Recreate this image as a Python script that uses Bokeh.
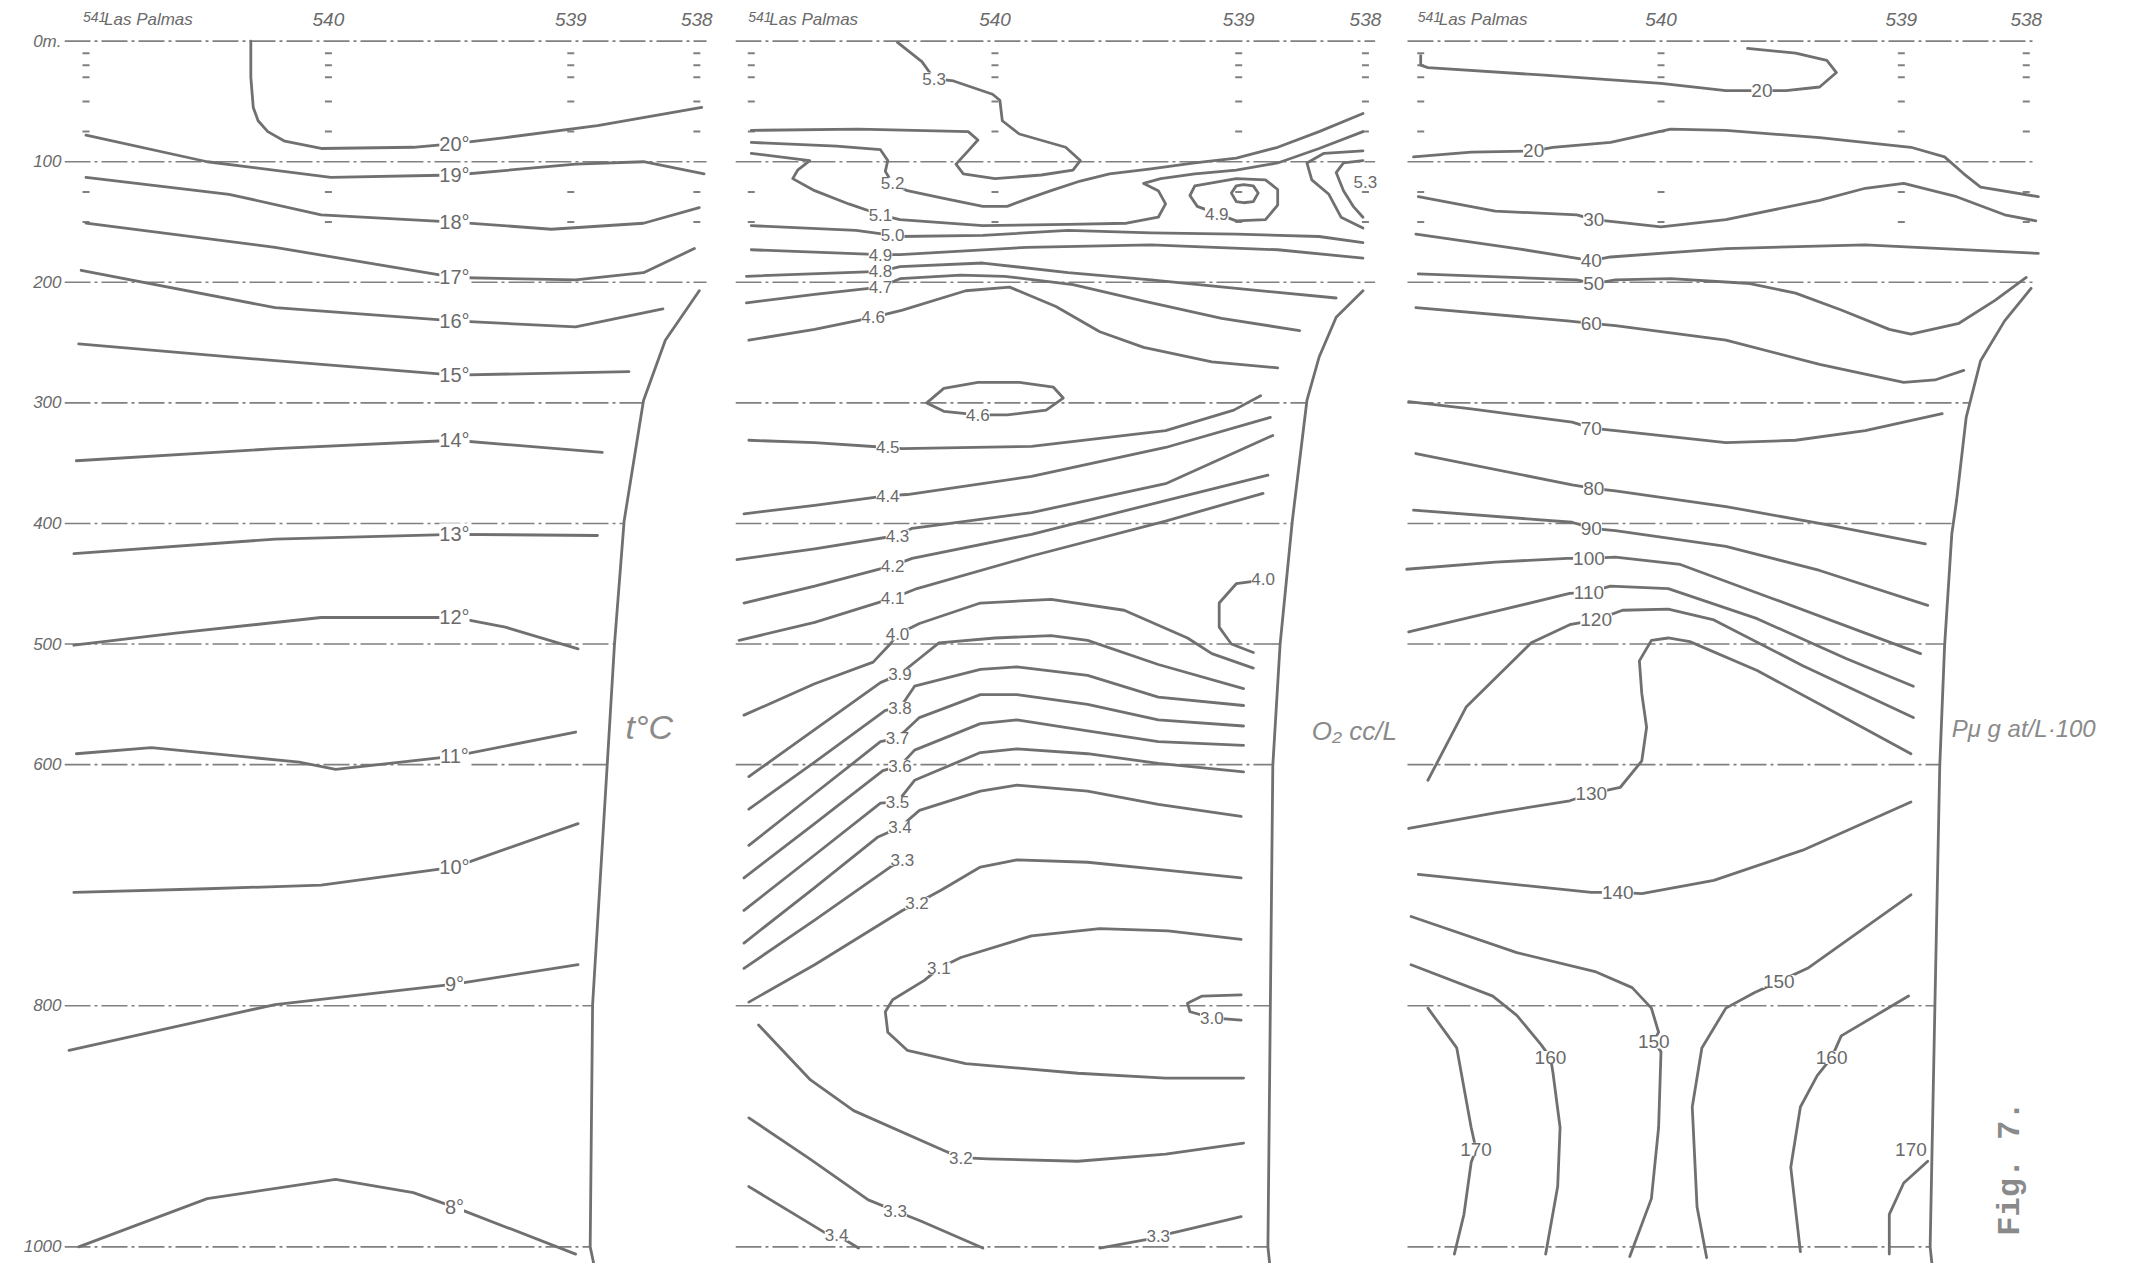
import numpy as np
from bokeh.plotting import figure
from bokeh.models import Range1d, FixedTicker, ColumnDataSource, LabelSet, Label
from bokeh.layouts import row
from bokeh.core.properties import value
from bokeh.embed import file_html
from bokeh.resources import INLINE

# ------------------------------------------------------------------ data
# x: distance along the section in station units (541 = 0, 540 = 1, 539 = 2, 538 = 2.52)
# y: depth in metres
STATION_NAMES = ["541", "540", "539", "538"]
STATION_U = [0.0, 1.0, 2.0, 2.52]
HARBOUR = "Las Palmas"
SAMPLE_DEPTHS = [10, 20, 30, 50, 75, 125, 150]
DEPTH_TICKS = [0, 100, 200, 300, 400, 500, 600, 800, 1000]

# --- temperature (t °C)
TEMP_TEXT = ["20°", "19°", "18°", "17°", "16°", "15°", "14°", "13°", "12°", "11°", "10°", "9°", "8°"]
TEMP_U = [
    [0.68, 0.68, 0.69, 0.71, 0.75, 0.82, 0.97, 1.35, 1.52, 1.73, 2.11, 2.54],
    [0.0, 0.5, 1.01, 1.52, 2.02, 2.3, 2.55],
    [0.0, 0.59, 0.97, 1.52, 1.92, 2.3, 2.53],
    [0.0, 0.78, 1.52, 2.02, 2.3, 2.51],
    [-0.02, 0.78, 1.52, 2.02, 2.38],
    [-0.03, 0.78, 1.52, 2.24],
    [-0.04, 0.78, 1.52, 2.13],
    [-0.05, 0.78, 1.52, 2.11],
    [-0.05, 0.37, 0.97, 1.52, 1.73, 2.03],
    [-0.04, 0.27, 0.88, 1.03, 1.52, 2.02],
    [-0.05, 0.5, 0.97, 1.52, 2.03],
    [-0.07, 0.78, 1.52, 2.03],
    [-0.03, 0.5, 1.03, 1.35, 1.52, 2.02],
]
TEMP_D = [
    [0, 30, 55, 66, 75, 83, 89, 88, 85, 80, 70, 55],
    [78, 100, 113, 111, 102, 100, 110],
    [113, 127, 144, 150, 156, 151, 138],
    [151, 171, 196, 198, 192, 172],
    [190, 221, 232, 237, 222],
    [251, 265, 277, 274],
    [348, 338, 331, 341],
    [425, 413, 409, 410],
    [501, 491, 478, 478, 486, 504],
    [591, 586, 598, 604, 593, 573],
    [706, 703, 700, 685, 649],
    [837, 799, 782, 766],
    [1000, 960, 944, 955, 967, 1006],
]
TEMP_LABEL_U = [1.52] * 13
TEMP_LABEL_D = [85, 111, 150, 196, 232, 277, 331, 409, 478, 593, 685, 782, 967]
TEMP_BOTTOM_U = [2.53, 2.39, 2.3, 2.22, 2.18, 2.15, 2.09, 2.08, 2.1]
TEMP_BOTTOM_D = [207, 248, 298, 398, 501, 601, 799, 1000, 1019]

# --- oxygen (O2 cc/L)
OXY_U = [
    [0.60, 0.70, 0.75, 0.83, 0.99, 1.02, 1.03, 1.10, 1.29, 1.35, 1.32, 1.19, 1.00, 0.87, 0.84, 0.89, 0.93, 0.89, 0.44, 0.0],
    [0, 0.35, 0.53, 0.56, 0.55, 0.58, 0.64, 0.78, 0.95, 1.05, 1.13, 1.23, 1.35, 1.47, 1.64, 1.82, 1.99, 2.16, 2.33, 2.51],
    [0, 0.24, 0.19, 0.17, 0.26, 0.40, 0.53, 0.61, 0.95, 1.30, 1.54, 1.67, 1.70, 1.67, 1.61, 1.68, 1.82, 1.99, 2.16, 2.33, 2.51],
    [0, 0.43, 0.58, 0.61, 0.95, 1.30, 1.64, 1.99, 2.33, 2.51],
    [0, 0.53, 0.61, 1.13, 1.64, 2.16, 2.51],
    [-0.02, 0.53, 0.61, 0.95, 1.30, 1.64, 1.99, 2.40],
    [-0.02, 0.26, 0.53, 0.61, 0.86, 1.04, 1.32, 1.62, 1.93, 2.25],
    [-0.01, 0.26, 0.50, 0.62, 0.88, 1.06, 1.25, 1.43, 1.61, 1.89, 2.16],
    [1.80, 1.83, 1.91, 1.99, 2.11, 2.16, 2.16, 2.11, 1.99, 1.82, 1.80],
    [1.97, 1.99, 2.02, 2.06, 2.08, 2.06, 2.02, 1.99, 1.97],
    [2.51, 2.35, 2.28, 2.30, 2.37, 2.42, 2.51],
    [2.51, 2.43, 2.40, 2.43, 2.47, 2.51],
    [-0.01, 0.26, 0.56, 0.62, 1.15, 1.70, 1.98, 2.09],
    [0.72, 0.79, 0.93, 1.10, 1.24, 1.28, 1.21, 1.05, 0.93, 0.79, 0.72],
    [-0.03, 0.26, 0.56, 0.64, 1.15, 1.70, 2.13],
    [-0.06, 0.26, 0.60, 0.66, 1.15, 1.70, 2.14],
    [-0.03, 0.26, 0.58, 0.66, 1.15, 1.70, 2.12],
    [-0.05, 0.26, 0.58, 0.68, 1.15, 1.70, 2.10],
    [-0.03, 0.26, 0.50, 0.57, 0.60, 0.69, 0.94, 1.23, 1.53, 1.79, 1.89, 2.06],
    [2.06, 1.99, 1.92, 1.92, 1.97, 2.06],
    [-0.01, 0.26, 0.53, 0.61, 0.69, 0.77, 1.00, 1.23, 1.38, 1.67, 2.02],
    [-0.01, 0.26, 0.55, 0.61, 0.67, 0.94, 1.09, 1.38, 1.67, 2.02],
    [-0.01, 0.26, 0.53, 0.60, 0.69, 0.94, 1.09, 1.38, 1.67, 2.02],
    [-0.03, 0.26, 0.54, 0.61, 0.67, 0.94, 1.09, 1.38, 1.67, 2.02],
    [-0.03, 0.26, 0.53, 0.60, 0.67, 0.94, 1.09, 1.38, 1.67, 2.02],
    [-0.03, 0.26, 0.52, 0.61, 0.69, 0.94, 1.09, 1.38, 1.67, 2.01],
    [-0.03, 0.26, 0.57, 0.62],
    [-0.01, 0.26, 0.62, 0.68, 0.78, 0.94, 1.09, 1.38, 1.67, 2.01],
    [2.01, 1.71, 1.43, 1.15, 0.86, 0.77, 0.71, 0.58, 0.55, 0.56, 0.64, 0.88, 1.34, 1.70, 2.02],
    [2.01, 1.85, 1.79, 1.80, 1.89, 2.01],
    [0.03, 0.24, 0.42, 0.79, 0.86, 0.97, 1.34, 1.70, 2.02],
    [-0.01, 0.24, 0.48, 0.59, 0.70, 0.95],
    [1.43, 1.62, 1.67, 1.76, 2.01],
    [-0.01, 0.30, 0.35, 0.44],
]
OXY_D = [
    [1, 17, 31, 33, 44, 49, 66, 77, 88, 99, 107, 111, 114, 110, 102, 91, 82, 75, 73, 74],
    [84, 87, 90, 99, 108, 118, 124, 130, 137, 137, 131, 124, 116, 110, 106, 101, 97, 88, 75, 60],
    [93, 99, 107, 114, 124, 135, 144, 148, 153, 152, 151, 146, 135, 124, 118, 114, 110, 107, 101, 89, 75],
    [153, 157, 161, 162, 161, 157, 159, 160, 162, 167],
    [173, 177, 177, 171, 169, 173, 180],
    [195, 191, 187, 184, 192, 198, 205, 213],
    [217, 210, 204, 197, 194, 195, 202, 216, 230, 240],
    [248, 239, 229, 223, 207, 204, 220, 241, 254, 266, 271],
    [128, 137, 143, 149, 148, 136, 123, 115, 114, 120, 128],
    [126, 120, 119, 120, 126, 133, 134, 133, 126],
    [91, 93, 101, 115, 127, 146, 155],
    [99, 101, 109, 124, 137, 146],
    [331, 333, 337, 338, 336, 323, 306, 294],
    [300, 288, 283, 283, 287, 296, 306, 310, 310, 307, 300],
    [392, 385, 377, 376, 361, 337, 312],
    [430, 421, 410, 404, 391, 367, 327],
    [466, 452, 435, 429, 409, 381, 360],
    [497, 482, 462, 454, 427, 398, 375],
    [559, 533, 515, 500, 492, 483, 466, 463, 472, 495, 508, 520],
    [448, 450, 466, 486, 500, 507],
    [610, 571, 532, 525, 512, 499, 495, 493, 497, 517, 537],
    [637, 598, 555, 553, 535, 521, 519, 526, 544, 551],
    [667, 624, 581, 578, 561, 542, 542, 550, 563, 568],
    [694, 649, 605, 601, 588, 566, 563, 572, 581, 584],
    [721, 675, 632, 631, 613, 590, 587, 591, 599, 606],
    [748, 702, 660, 652, 638, 622, 617, 622, 633, 643],
    [769, 729, 685, 679],
    [797, 766, 721, 715, 704, 685, 679, 681, 687, 694],
    [745, 738, 736, 742, 760, 769, 779, 795, 805, 822, 837, 848, 856, 860, 860],
    [791, 792, 798, 805, 810, 812],
    [816, 861, 887, 920, 926, 927, 929, 923, 914],
    [893, 927, 961, 970, 979, 1001],
    [1001, 994, 991, 987, 975],
    [950, 988, 990, 1001],
]
OXY_LABEL_TEXT = ["5.3", "5.2", "5.1", "5.0", "4.9", "4.8", "4.7", "4.6", "4.9", "5.3",
                  "4.5", "4.6", "4.4", "4.3", "4.2", "4.1", "4.0", "4.0", "3.9", "3.8",
                  "3.7", "3.6", "3.5", "3.4", "3.3", "3.2", "3.1", "3.0", "3.2", "3.3",
                  "3.3", "3.4"]
OXY_LABEL_U = [0.75, 0.58, 0.53, 0.58, 0.53, 0.53, 0.53, 0.50, 1.91, 2.52,
               0.56, 0.93, 0.56, 0.60, 0.58, 0.58, 0.60, 2.10, 0.61, 0.61,
               0.60, 0.61, 0.60, 0.61, 0.62, 0.68, 0.77, 1.89, 0.86, 0.59,
               1.67, 0.35]
OXY_LABEL_D = [31, 118, 144, 161, 177, 191, 204, 229, 143, 117,
               337, 310, 377, 410, 435, 462, 492, 446, 525, 553,
               578, 601, 631, 652, 679, 715, 769, 810, 926, 970,
               991, 990]
OXY_BOTTOM_U = [2.51, 2.40, 2.33, 2.28, 2.22, 2.17, 2.14, 2.13, 2.12, 2.13]
OXY_BOTTOM_D = [207, 229, 262, 298, 398, 500, 601, 798, 1000, 1020]

# --- phosphate (P µg at/L·100)
PHOS_U = [
    [0.0, 0.0, 0.03, 0.50, 1.00, 1.27, 1.42, 1.52, 1.66, 1.73, 1.69, 1.56, 1.36],
    [-0.03, 0.21, 0.47, 0.55, 0.79, 1.04, 1.27, 1.66, 2.04, 2.18, 2.26, 2.33, 2.57],
    [-0.01, 0.31, 0.65, 0.72, 0.82, 1.00, 1.27, 1.66, 1.85, 2.01, 2.23, 2.43, 2.56],
    [-0.02, 0.40, 0.71, 0.79, 1.27, 1.85, 2.57],
    [-0.01, 0.65, 0.72, 0.81, 1.04, 1.37, 1.56, 1.75, 1.95, 2.04, 2.24, 2.39, 2.52],
    [-0.02, 0.61, 0.71, 0.81, 1.27, 1.66, 2.01, 2.14, 2.26],
    [-0.05, 0.21, 0.63, 0.71, 0.81, 1.27, 1.56, 1.85, 2.17],
    [-0.02, 0.63, 0.72, 0.81, 1.27, 1.66, 2.10],
    [-0.03, 0.63, 0.71, 0.81, 1.27, 1.66, 2.11],
    [-0.06, 0.31, 0.61, 0.70, 0.81, 1.08, 1.46, 1.85, 2.08],
    [-0.05, 0.31, 0.62, 0.70, 0.79, 1.03, 1.40, 1.77, 2.05],
    [0.03, 0.19, 0.46, 0.62, 0.73, 0.84, 1.03, 1.22, 1.59, 2.05],
    [-0.05, 0.31, 0.62, 0.71, 0.83, 0.92, 0.94, 0.92, 0.91, 0.96, 1.03, 1.12, 1.40, 1.68, 2.04],
    [-0.01, 0.71, 0.82, 0.92, 1.22, 1.59, 2.04],
    [-0.04, 0.40, 0.73, 0.88, 0.96, 0.99, 0.97, 1.00, 0.99, 0.96, 0.87],
    [2.04, 1.61, 1.49, 1.39, 1.27, 1.17, 1.13, 1.15, 1.19],
    [-0.04, 0.30, 0.40, 0.50, 0.54, 0.55, 0.58, 0.57, 0.52],
    [0.03, 0.15, 0.21, 0.23, 0.21, 0.18, 0.14],
    [2.03, 1.75, 1.71, 1.65, 1.58, 1.54, 1.58],
    [2.11, 2.01, 1.95, 1.95],
]
PHOS_D = [
    [12, 20, 22, 28, 35, 41, 41, 41, 38, 26, 16, 10, 6],
    [96, 92, 91, 88, 84, 73, 74, 80, 88, 96, 110, 121, 129],
    [129, 141, 144, 148, 150, 154, 148, 132, 122, 118, 129, 144, 149],
    [160, 172, 182, 179, 172, 169, 176],
    [193, 198, 201, 198, 197, 201, 209, 223, 239, 243, 234, 215, 196],
    [221, 232, 234, 236, 248, 268, 283, 281, 273],
    [299, 305, 316, 321, 323, 333, 331, 323, 309],
    [342, 368, 371, 373, 386, 400, 417],
    [389, 399, 404, 406, 419, 439, 468],
    [438, 432, 429, 429, 428, 434, 462, 491, 508],
    [490, 473, 458, 457, 452, 454, 479, 512, 535],
    [613, 552, 499, 484, 480, 472, 471, 480, 518, 561],
    [653, 640, 630, 624, 619, 597, 569, 541, 514, 497, 495, 498, 522, 552, 591],
    [691, 706, 706, 707, 696, 671, 631],
    [726, 756, 772, 785, 802, 822, 830, 838, 901, 960, 1008],
    [708, 769, 780, 789, 802, 835, 884, 967, 1009],
    [766, 792, 808, 832, 843, 855, 901, 950, 1006],
    [802, 835, 901, 919, 930, 973, 1006],
    [792, 825, 843, 858, 884, 934, 1004],
    [929, 947, 973, 1006],
]
PHOS_LABEL_TEXT = ["20", "20", "30", "40", "50", "60", "70", "80", "90", "100", "110", "120",
                   "130", "140", "150", "150", "160", "170", "160", "170"]
PHOS_LABEL_U = [1.42, 0.47, 0.72, 0.71, 0.72, 0.71, 0.71, 0.72, 0.71, 0.70, 0.70, 0.73,
                0.71, 0.82, 0.97, 1.49, 0.54, 0.23, 1.71, 2.04]
PHOS_LABEL_D = [41, 91, 148, 182, 201, 234, 321, 371, 404, 429, 457, 480,
                624, 706, 830, 780, 843, 919, 843, 919]
PHOS_BOTTOM_U = [2.54, 2.43, 2.33, 2.27, 2.23, 2.21, 2.18, 2.16, 2.14, 2.12, 2.13]
PHOS_BOTTOM_D = [205, 232, 265, 312, 381, 409, 502, 601, 798, 1000, 1019]

UNIT_TEXT = ["t°C", "O\u2082 cc/L", "P\u03bc g at/L\u00b7100"]
FIGURE_TITLE = "Fig. 7."

# ------------------------------------------------------------------ layout / style
FIG_H = 1263
TOP_BORDER = 8
PANEL_W = [735, 670, 714]
LEFT_BORDER = [64, 0, 0]
X_RANGES = [(-0.0887, 2.6795), (-0.0648, 2.6845), (-0.0633, 2.908)]
Y_RANGE = (1013.8, -27.1)
GRID_START_U = [-0.0887, -0.065, -0.055]
GRID_END_U = 2.56
STATION_LABEL_D = -18

LINE_COLOR = "#707070"
GRID_COLOR = "#808080"
TEXT_COLOR = "#6a6a6a"
FONT = "Liberation Sans"


def make_panel(i, with_axis):
    p = figure(width=PANEL_W[i], height=FIG_H,
               x_range=Range1d(*X_RANGES[i]), y_range=Range1d(*Y_RANGE),
               output_backend="svg", toolbar_location=None,
               x_axis_location=None,
               y_axis_location="left" if with_axis else None,
               min_border_left=LEFT_BORDER[i], min_border_right=0,
               min_border_top=TOP_BORDER, min_border_bottom=0,
               outline_line_color=None,
               background_fill_color="white", border_fill_color="white")
    p.grid.visible = False
    if with_axis:
        ax = p.yaxis[0]
        ax.ticker = FixedTicker(ticks=DEPTH_TICKS)
        ax.major_label_overrides = {0: "0m."}
        ax.axis_line_color = None
        ax.major_tick_line_color = None
        ax.minor_tick_line_color = None
        ax.major_tick_in = 0
        ax.major_tick_out = 0
        ax.major_label_standoff = 3
        ax.major_label_text_font = FONT
        ax.major_label_text_font_style = "italic"
        ax.major_label_text_font_size = "17px"
        ax.major_label_text_color = TEXT_COLOR
    return p


def decorate(p, i, bottom_u, bottom_d):
    # dash-dot depth lines, ending at the sea floor
    gx, gy = [], []
    top = bottom_d[0]
    for d in DEPTH_TICKS:
        end = GRID_END_U if d <= top else float(np.interp(d, bottom_d, bottom_u))
        gx.append([GRID_START_U[i], end])
        gy.append([d, d])
    p.multi_line(gx, gy, line_color=GRID_COLOR, line_width=1.6, line_dash="26 4 3 4")
    # sampling depths at every station
    mx = [u for u in STATION_U for d in SAMPLE_DEPTHS]
    my = [d for u in STATION_U for d in SAMPLE_DEPTHS]
    p.scatter(mx, my, marker="dash", size=7, line_width=2, line_color=GRID_COLOR)
    # sea floor
    p.line(bottom_u, bottom_d, line_color=LINE_COLOR, line_width=2.8, line_join="round", line_cap="round")
    # station names
    p.text(x=STATION_U[1:], y=[STATION_LABEL_D] * 3, text=STATION_NAMES[1:],
           text_align="center", text_baseline="middle", text_font=value(FONT),
           text_font_style="italic", text_font_size="19px", text_color=TEXT_COLOR)
    p.text(x=STATION_U[:1], y=[STATION_LABEL_D], text=STATION_NAMES[:1],
           text_align="left", text_baseline="middle", x_offset=-3, y_offset=-2,
           text_font=value(FONT), text_font_style="italic", text_font_size="14px",
           text_color=TEXT_COLOR)
    p.text(x=STATION_U[:1], y=[STATION_LABEL_D], text=[HARBOUR],
           text_align="left", text_baseline="middle", x_offset=18,
           text_font=value(FONT), text_font_style="italic", text_font_size="17px",
           text_color=TEXT_COLOR)


def contours(p, us, ds, texts, lu, ld, size):
    p.multi_line(us, ds, line_color=LINE_COLOR, line_width=2.8, line_join="round", line_cap="round")
    src = ColumnDataSource(dict(x=lu, y=ld, t=texts))
    p.add_layout(LabelSet(x="x", y="y", text="t", source=src,
                          text_align="center", text_baseline="middle",
                          text_font=value(FONT), text_font_size=size,
                          text_color=TEXT_COLOR,
                          background_fill_color="white", background_fill_alpha=1.0))


p1 = make_panel(0, True)
decorate(p1, 0, TEMP_BOTTOM_U, TEMP_BOTTOM_D)
contours(p1, TEMP_U, TEMP_D, TEMP_TEXT, TEMP_LABEL_U, TEMP_LABEL_D, "20px")
p1.add_layout(Label(x=2.226, y=569, text=UNIT_TEXT[0], text_align="left", text_baseline="middle",
                    text_font=FONT, text_font_style="italic", text_font_size="34px",
                    text_color="#8a8a8a"))

p2 = make_panel(1, False)
decorate(p2, 1, OXY_BOTTOM_U, OXY_BOTTOM_D)
contours(p2, OXY_U, OXY_D, OXY_LABEL_TEXT, OXY_LABEL_U, OXY_LABEL_D, "17px")
p2.add_layout(Label(x=2.30, y=572, text=UNIT_TEXT[1], text_align="left", text_baseline="middle",
                    text_font=FONT, text_font_style="italic", text_font_size="26px",
                    text_color="#8a8a8a"))

p3 = make_panel(2, False)
decorate(p3, 2, PHOS_BOTTOM_U, PHOS_BOTTOM_D)
contours(p3, PHOS_U, PHOS_D, PHOS_LABEL_TEXT, PHOS_LABEL_U, PHOS_LABEL_D, "19px")
p3.add_layout(Label(x=2.21, y=570, text=UNIT_TEXT[2], text_align="left", text_baseline="middle",
                    text_font=FONT, text_font_style="italic", text_font_size="24px",
                    text_color="#8a8a8a"))
p3.add_layout(Label(x=2.453, y=935, text=FIGURE_TITLE, angle=np.pi / 2,
                    text_align="center", text_baseline="middle",
                    text_font="Liberation Mono", text_font_style="bold", text_font_size="32px",
                    text_color="#8a8a8a"))

layout = row(p1, p2, p3)
open("out.html", "w").write(file_html(layout, INLINE))
